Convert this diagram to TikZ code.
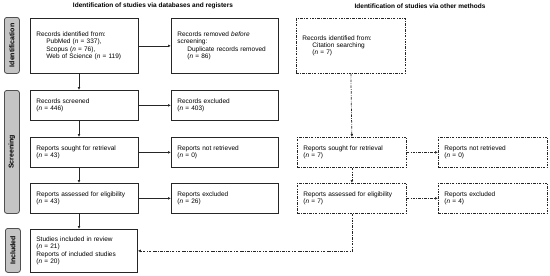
\documentclass[tikz,border=0pt]{standalone}
\usepackage{fontspec}
\setmainfont{Liberation Sans}
\usetikzlibrary{arrows.meta,calc}
\definecolor{labgray}{HTML}{C4C4C4}
\definecolor{labedge}{HTML}{505050}
\tikzset{
  txt/.style={font=\fontsize{6.5}{7.3}\selectfont},
  box/.style={draw=black!85, line width=0.75pt, rectangle, align=left, inner xsep=6pt, inner ysep=0pt, anchor=north west, txt},
  dbox/.style={box, dash pattern=on 2.6pt off 1.3pt on 0.6pt off 1.3pt},
  phase/.style={draw=labedge, fill=labgray, line width=0.8pt, rounded corners=2.5pt, anchor=north west, inner sep=0pt},
  phasetxt/.style={font=\fontsize{7}{8}\selectfont\bfseries, rotate=90},
  arr/.style={line width=0.75pt, draw=black!85, -{Latex[length=3pt,width=2.8pt]}},
  darr/.style={arr, dash pattern=on 2.6pt off 1.3pt on 0.6pt off 1.3pt},
  ttl/.style={font=\fontsize{6.5}{7.5}\selectfont\bfseries}
}
\newcommand{\nn}{\textit{n}}
\begin{document}
\begin{tikzpicture}[x=1pt,y=-1pt]
\useasboundingbox (0,0) rectangle (550,276);
% titles
\node[ttl] (t1) at (153,6) {Identification of studies via databases and registers};
\node[ttl] (t2) at (420,6) {Identification of studies via other methods};
% phase labels
\node[phase, minimum width=15pt, minimum height=56pt] (pid) at (4,17) {};
\node[phasetxt] (pidt) at (pid.center) {Identification};
\node[phase, minimum width=15pt, minimum height=123pt] (psc) at (4,90) {};
\node[phasetxt] (psct) at (psc.center) {Screening};
\node[phase, minimum width=15pt, minimum height=44pt] (pin) at (5,228) {};
\node[phasetxt] (pint) at (pin.center) {Included};
% left column
\node[box, text width=96pt, minimum height=55pt] (id) at (30,18) {Records identified from:\\\hspace*{10pt}PubMed (\nn{} = 337),\\\hspace*{10pt}Scopus (\nn{} = 76),\\\hspace*{10pt}Web of Science (\nn{} = 119)};
\node[box, text width=95pt, minimum height=55pt] (rem) at (171,18) {Records removed \textit{before}\\screening:\\\hspace*{10pt}Duplicate records removed\\\hspace*{10pt}(\nn{} = 86)};
\node[box, text width=96pt, minimum height=30pt] (scr) at (30,90) {Records screened\\(\nn{} = 446)};
\node[box, text width=95pt, minimum height=30pt] (exc) at (171,90) {Records excluded\\(\nn{} = 403)};
\node[box, text width=96pt, minimum height=30pt] (sgt) at (30,137) {Reports sought for retrieval\\(\nn{} = 43)};
\node[box, text width=95pt, minimum height=30pt] (nrt) at (171,137) {Reports not retrieved\\(\nn{} = 0)};
\node[box, text width=96pt, minimum height=30pt] (ase) at (30,183) {Reports assessed for eligibility\\(\nn{} = 43)};
\node[box, text width=95pt, minimum height=30pt] (rex) at (171,183) {Reports excluded\\(\nn{} = 26)};
\node[box, text width=95pt, minimum height=43pt] (inc) at (30,229) {Studies included in review\\(\nn{} = 21)\\Reports of included studies\\(\nn{} = 20)};
% right column
\node[dbox, text width=97pt, minimum height=55pt] (cit) at (296,18) {Records identified from:\\\hspace*{10pt}Citation searching\\\hspace*{10pt}(\nn{} = 7)};
\node[dbox, text width=97pt, minimum height=30pt] (sgt2) at (297,137) {Reports sought for retrieval\\(\nn{} = 7)};
\node[dbox, text width=97pt, minimum height=30pt] (nrt2) at (438,137) {Reports not retrieved\\(\nn{} = 0)};
\node[dbox, text width=97pt, minimum height=30pt] (ase2) at (297,183) {Reports assessed for eligibility\\(\nn{} = 7)};
\node[dbox, text width=97pt, minimum height=30pt] (rex2) at (438,183) {Reports excluded\\(\nn{} = 4)};
% connectors
\coordinate (lx) at (79,0);
\draw[arr] (id.east) -- (rem.west);
\draw[arr] (scr.east) -- (exc.west);
\draw[arr] (sgt.east) -- (nrt.west);
\draw[arr] (ase.east) -- (rex.west);
\draw[arr] (id.south -| lx) -- (scr.north -| lx);
\draw[arr] (scr.south -| lx) -- (sgt.north -| lx);
\draw[arr] (sgt.south -| lx) -- (ase.north -| lx);
\draw[arr] (ase.south -| lx) -- (inc.north -| lx);
\draw[darr] (cit.south) -- (sgt2.north);
\draw[darr] (sgt2.south) -- (ase2.north);
\draw[darr] (sgt2.east) -- (nrt2.west);
\draw[darr] (ase2.east) -- (rex2.west);
\draw[darr] (ase2.south) |- (inc.east);
\end{tikzpicture}
\end{document}
